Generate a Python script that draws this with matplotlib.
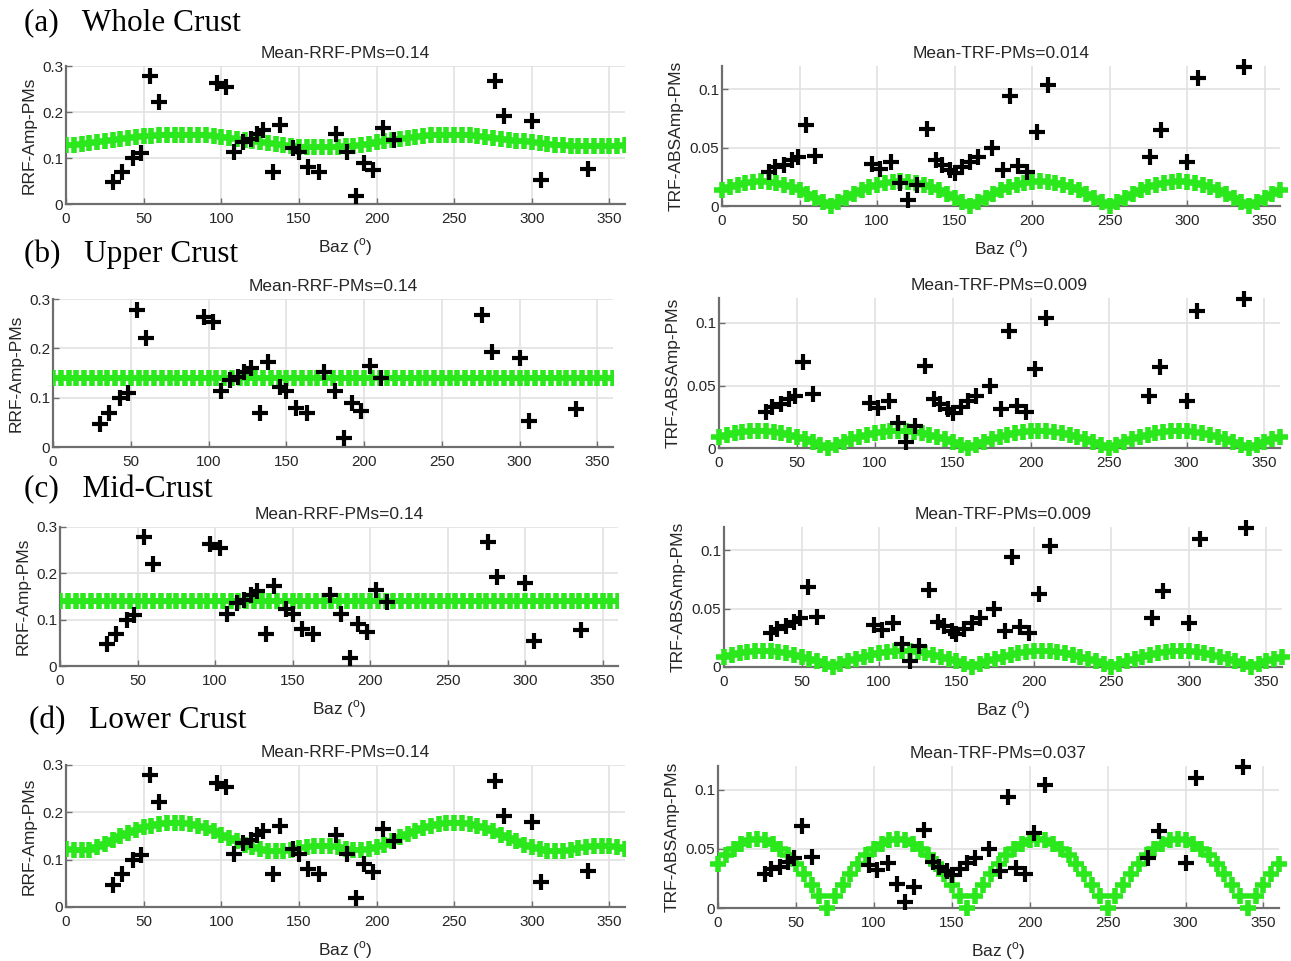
import numpy as np
import matplotlib.pyplot as plt

plt.rcParams['font.family'] = ['Liberation Sans', 'DejaVu Sans']

# back-azimuths and measured amplitudes of the P-to-s conversions
baz_rrf = [30, 36, 43, 48, 54, 60, 97, 103, 108, 114, 119, 123, 127, 133, 138,
           146, 150, 156, 163, 174, 181, 187, 192, 198, 204, 211, 276, 282, 300,
           306, 336]
rrf_amp = [0.047, 0.069, 0.100, 0.110, 0.278, 0.221, 0.263, 0.254, 0.113, 0.135,
           0.142, 0.153, 0.161, 0.069, 0.172, 0.122, 0.113, 0.080, 0.069, 0.153,
           0.113, 0.018, 0.090, 0.073, 0.165, 0.139, 0.267, 0.192, 0.180, 0.053,
           0.077]

baz_trf = [30, 34, 40, 45, 49, 54, 60, 97, 102, 109, 115, 120, 126, 132, 138,
           142, 147, 150, 155, 160, 165, 174, 181, 186, 191, 197, 203, 210, 276,
           283, 300, 307, 337]
trf_amp = [0.029, 0.033, 0.035, 0.039, 0.042, 0.069, 0.043, 0.036, 0.032, 0.038,
           0.020, 0.005, 0.018, 0.066, 0.039, 0.035, 0.031, 0.028, 0.033, 0.038,
           0.042, 0.050, 0.031, 0.094, 0.034, 0.029, 0.063, 0.104, 0.042, 0.065,
           0.038, 0.110, 0.119]

# forward-modelled amplitudes, sampled every 5 degrees
fit_baz = np.arange(0, 365, 5)

rrf_fit_whole = [
    0.128, 0.129, 0.130, 0.132, 0.134, 0.136, 0.139, 0.141, 0.143, 0.145, 0.147, 0.148,
    0.149, 0.150, 0.150, 0.150, 0.150, 0.150, 0.149, 0.148, 0.146, 0.144, 0.142, 0.140,
    0.137, 0.135, 0.132, 0.130, 0.128, 0.126, 0.125, 0.124, 0.124, 0.124, 0.124, 0.125,
    0.126, 0.127, 0.129, 0.131, 0.134, 0.136, 0.139, 0.142, 0.144, 0.146, 0.148, 0.149,
    0.150, 0.151, 0.150, 0.150, 0.149, 0.148, 0.146, 0.144, 0.142, 0.140, 0.138, 0.136,
    0.134, 0.132, 0.131, 0.129, 0.128, 0.127, 0.127, 0.126, 0.126, 0.126, 0.127, 0.127,
    0.128]
rrf_fit_upper = [
    0.140, 0.140, 0.140, 0.140, 0.140, 0.140, 0.140, 0.140, 0.140, 0.140, 0.140, 0.140,
    0.140, 0.140, 0.140, 0.140, 0.140, 0.140, 0.140, 0.140, 0.140, 0.140, 0.140, 0.140,
    0.140, 0.140, 0.140, 0.140, 0.140, 0.140, 0.140, 0.140, 0.140, 0.140, 0.140, 0.140,
    0.140, 0.140, 0.140, 0.140, 0.140, 0.140, 0.140, 0.140, 0.140, 0.140, 0.140, 0.140,
    0.140, 0.140, 0.140, 0.140, 0.140, 0.140, 0.140, 0.140, 0.140, 0.140, 0.140, 0.140,
    0.140, 0.140, 0.140, 0.140, 0.140, 0.140, 0.140, 0.140, 0.140, 0.140, 0.140, 0.140,
    0.140]
rrf_fit_mid = list(rrf_fit_upper)
rrf_fit_lower = [
    0.123, 0.121, 0.120, 0.121, 0.126, 0.133, 0.141, 0.149, 0.156, 0.162, 0.168, 0.172,
    0.175, 0.177, 0.178, 0.177, 0.175, 0.171, 0.166, 0.160, 0.153, 0.146, 0.139, 0.132,
    0.126, 0.122, 0.119, 0.118, 0.119, 0.121, 0.124, 0.127, 0.128, 0.129, 0.128, 0.126,
    0.123, 0.121, 0.120, 0.122, 0.126, 0.132, 0.139, 0.147, 0.154, 0.161, 0.166, 0.171,
    0.175, 0.177, 0.178, 0.177, 0.175, 0.171, 0.166, 0.160, 0.153, 0.146, 0.139, 0.132,
    0.126, 0.122, 0.119, 0.118, 0.119, 0.121, 0.124, 0.127, 0.128, 0.129, 0.128, 0.126,
    0.123]

trf_fit_whole = [
    0.0135, 0.0161, 0.0182, 0.0197, 0.0207, 0.0210, 0.0207, 0.0197, 0.0182, 0.0161,
    0.0135, 0.0105, 0.0072, 0.0036, 0.0000, 0.0036, 0.0072, 0.0105,
    0.0135, 0.0161, 0.0182, 0.0197, 0.0207, 0.0210, 0.0207, 0.0197, 0.0182, 0.0161,
    0.0135, 0.0105, 0.0072, 0.0036, 0.0000, 0.0036, 0.0072, 0.0105,
    0.0135, 0.0161, 0.0182, 0.0197, 0.0207, 0.0210, 0.0207, 0.0197, 0.0182, 0.0161,
    0.0135, 0.0105, 0.0072, 0.0036, 0.0000, 0.0036, 0.0072, 0.0105,
    0.0135, 0.0161, 0.0182, 0.0197, 0.0207, 0.0212, 0.0207, 0.0197, 0.0182, 0.0161,
    0.0135, 0.0105, 0.0072, 0.0036, 0.0000, 0.0036, 0.0072, 0.0105,
    0.0135]
trf_fit_upper = [
    0.0090, 0.0107, 0.0121, 0.0132, 0.0138, 0.0140, 0.0138, 0.0132, 0.0121, 0.0107,
    0.0090, 0.0070, 0.0048, 0.0024, 0.0000, 0.0024, 0.0048, 0.0070,
    0.0090, 0.0107, 0.0121, 0.0132, 0.0138, 0.0140, 0.0138, 0.0132, 0.0121, 0.0107,
    0.0090, 0.0070, 0.0048, 0.0024, 0.0000, 0.0024, 0.0048, 0.0070,
    0.0090, 0.0107, 0.0121, 0.0132, 0.0138, 0.0140, 0.0138, 0.0132, 0.0121, 0.0107,
    0.0090, 0.0070, 0.0048, 0.0024, 0.0000, 0.0024, 0.0048, 0.0070,
    0.0090, 0.0107, 0.0121, 0.0132, 0.0138, 0.0140, 0.0138, 0.0132, 0.0121, 0.0107,
    0.0090, 0.0070, 0.0048, 0.0024, 0.0000, 0.0024, 0.0048, 0.0070,
    0.0090]
trf_fit_mid = list(trf_fit_upper)
trf_fit_lower = [
    0.0373, 0.0444, 0.0502, 0.0545, 0.0571, 0.0580, 0.0571, 0.0545, 0.0502, 0.0444,
    0.0373, 0.0290, 0.0198, 0.0101, 0.0000, 0.0101, 0.0198, 0.0290,
    0.0373, 0.0444, 0.0502, 0.0545, 0.0571, 0.0580, 0.0571, 0.0545, 0.0502, 0.0444,
    0.0373, 0.0290, 0.0198, 0.0101, 0.0000, 0.0101, 0.0198, 0.0290,
    0.0373, 0.0444, 0.0502, 0.0545, 0.0571, 0.0580, 0.0571, 0.0545, 0.0502, 0.0444,
    0.0373, 0.0290, 0.0198, 0.0101, 0.0000, 0.0101, 0.0198, 0.0290,
    0.0373, 0.0444, 0.0502, 0.0545, 0.0571, 0.0580, 0.0571, 0.0545, 0.0502, 0.0444,
    0.0373, 0.0290, 0.0198, 0.0101, 0.0000, 0.0101, 0.0198, 0.0290,
    0.0373]

row_names = ["(a)   Whole Crust", "(b)   Upper Crust", "(c)   Mid-Crust", "(d)   Lower Crust"]
rrf_means = ["0.14", "0.14", "0.14", "0.14"]
trf_means = ["0.014", "0.009", "0.009", "0.037"]
rrf_fits = [rrf_fit_whole, rrf_fit_upper, rrf_fit_mid, rrf_fit_lower]
trf_fits = [trf_fit_whole, trf_fit_upper, trf_fit_mid, trf_fit_lower]

W, H = 1291, 961
fig = plt.figure(figsize=(W / 100, H / 100), dpi=100)


def px_rect(left, top, width, height):
    return [left / W, 1 - (top + height) / H, width / W, height / H]


# axes boxes in pixels: (left, top, width, height)
left_boxes = [(66, 66, 559, 138), (53, 299, 560, 148), (60, 527, 558, 139), (66, 765, 559, 142)]
right_boxes = [(722, 66, 558, 140), (719, 298, 561, 150), (724, 527, 558, 140), (718, 766, 561, 142)]
label_pos = [(24, 23), (24, 254), (24, 490), (29, 721)]
show_xlabel = [True, False, True, True]

GREEN = '#2ae81c'
TXT = '#262626'


def style_axes(ax, ylim, yticks, yticklabels):
    ax.set_xlim(0, 360)
    ax.set_ylim(*ylim)
    ax.set_xticks(range(0, 351, 50))
    ax.set_yticks(yticks)
    ax.set_yticklabels(yticklabels)
    ax.grid(True, color='#e2e2e2', linewidth=1.2)
    ax.set_axisbelow(True)
    for side in ('top', 'right'):
        ax.spines[side].set_visible(False)
    for side in ('left', 'bottom'):
        ax.spines[side].set_color('#6e6e6e')
        ax.spines[side].set_linewidth(1.6)
    ax.tick_params(direction='in', length=4, width=1, colors='#6e6e6e',
                   labelcolor=TXT, labelsize=11, pad=2)
    ax.tick_params(axis='x', pad=6)


for i in range(4):
    axl = fig.add_axes(px_rect(*left_boxes[i]))
    axl.plot(fit_baz, rrf_fits[i], '+', color=GREEN, ms=11, mew=4, zorder=3)
    axl.plot(baz_rrf, rrf_amp, '+', color='black', ms=12, mew=3, zorder=4)
    style_axes(axl, (0, 0.3), [0, 0.1, 0.2, 0.3], ['0', '0.1', '0.2', '0.3'])
    axl.set_ylabel('RRF-Amp-PMs', fontsize=12.5, color=TXT, labelpad=4)
    axl.set_title('Mean-RRF-PMs=' + rrf_means[i], fontsize=12.5, color=TXT, pad=6)

    axr = fig.add_axes(px_rect(*right_boxes[i]))
    axr.plot(fit_baz, trf_fits[i], '+', color=GREEN, ms=11, mew=4, zorder=3,
             clip_on=False)
    axr.plot(baz_trf, trf_amp, '+', color='black', ms=12, mew=3, zorder=4,
             clip_on=False)
    style_axes(axr, (0, 0.12), [0, 0.05, 0.1], ['0', '0.05', '0.1'])
    axr.set_ylabel('TRF-ABSAmp-PMs', fontsize=12.5, color=TXT, labelpad=4)
    axr.set_title('Mean-TRF-PMs=' + trf_means[i], fontsize=12.5, color=TXT, pad=6)

    if show_xlabel[i]:
        for ax in (axl, axr):
            ax.set_xlabel('Baz ($^\\mathregular{o}$)', fontsize=12.5, color=TXT,
                          labelpad=7)

    lx, ly = label_pos[i]
    fig.text(lx / W, 1 - ly / H, row_names[i], fontsize=22.5, va='center', ha='left',
             family=['Liberation Serif', 'DejaVu Serif'], color='black')

fig.savefig('out.png', dpi=100)
